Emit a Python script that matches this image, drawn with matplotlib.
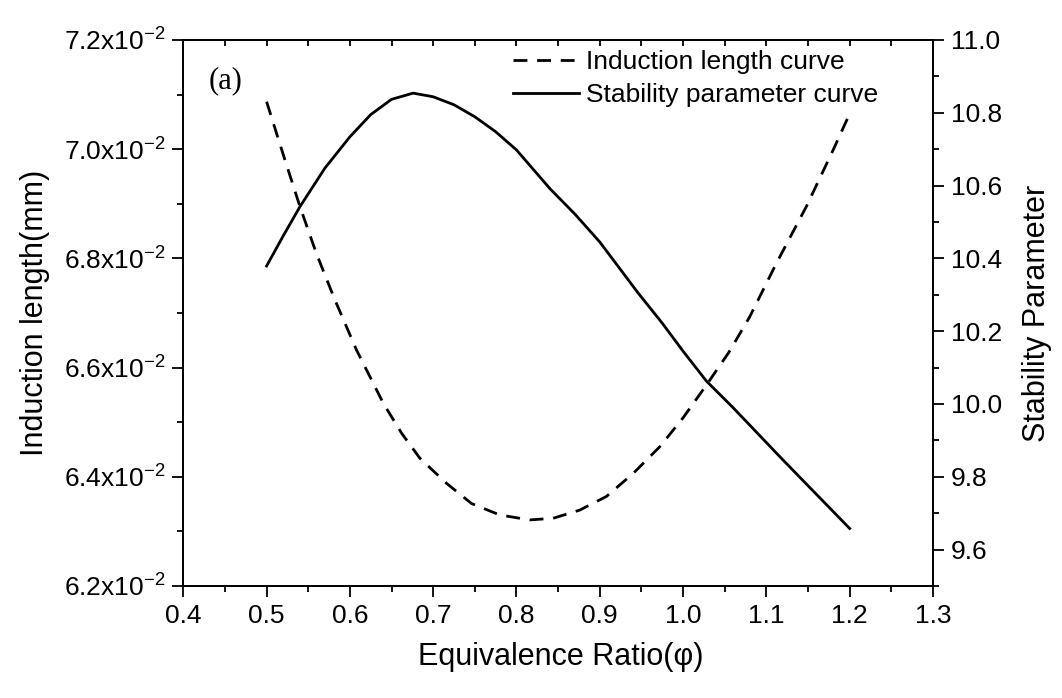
import matplotlib
matplotlib.use('Agg')
import matplotlib.pyplot as plt
import numpy as np
from matplotlib.ticker import MultipleLocator, FuncFormatter

plt.rcParams['font.family'] = ['Liberation Sans', 'DejaVu Sans']
plt.rcParams['mathtext.default'] = 'regular'

# equivalence ratio / induction length (mm)
phi_ind = [0.500, 0.520, 0.540, 0.560, 0.582, 0.608, 0.640, 0.662, 0.684,
           0.716, 0.746, 0.780, 0.816, 0.844, 0.876, 0.908, 0.940, 0.972,
           1.000, 1.028, 1.055, 1.080, 1.112, 1.148, 1.180, 1.200]
induction = [0.07087, 0.06990, 0.06895, 0.06808, 0.06724, 0.06632, 0.06535,
             0.06480, 0.06434, 0.06388, 0.06351, 0.06330, 0.06321, 0.06324,
             0.06339, 0.06364, 0.06406, 0.06455, 0.06508, 0.06568, 0.06628,
             0.06693, 0.06791, 0.06895, 0.06998, 0.07065]

# equivalence ratio / stability parameter
phi_stab = [0.500, 0.520, 0.540, 0.570, 0.600, 0.625, 0.650, 0.676, 0.700,
            0.725, 0.750, 0.775, 0.800, 0.840, 0.870, 0.900, 0.946, 0.975,
            1.000, 1.028, 1.060, 1.090, 1.120, 1.160, 1.200]
stability = [10.379, 10.462, 10.542, 10.648, 10.734, 10.795, 10.837, 10.854,
             10.844, 10.822, 10.789, 10.748, 10.698, 10.592, 10.522, 10.445,
             10.305, 10.222, 10.145, 10.063, 9.990, 9.918, 9.846, 9.752,
             9.658]

fig = plt.figure(figsize=(10.62, 6.98), dpi=100)
ax = fig.add_axes([0.1726, 0.1605, 0.7059, 0.7822])
ax2 = ax.twinx()

l1, = ax.plot(phi_ind, induction, color='black', lw=2.0, ls='--', dashes=(5, 3.5))
l2, = ax2.plot(phi_stab, stability, color='black', lw=2.0)

ax.set_xlim(0.4, 1.3)
ax.set_ylim(0.062, 0.072)
ax2.set_ylim(9.5, 11.0)

ax.xaxis.set_major_locator(MultipleLocator(0.1))
ax.xaxis.set_minor_locator(MultipleLocator(0.05))
ax.yaxis.set_major_locator(MultipleLocator(0.002))
ax.yaxis.set_minor_locator(MultipleLocator(0.001))
ax2.yaxis.set_major_locator(MultipleLocator(0.2))
ax2.yaxis.set_minor_locator(MultipleLocator(0.1))

ax.xaxis.set_major_formatter(FuncFormatter(lambda v, p: f'{v:.1f}'))
ax.yaxis.set_major_formatter(FuncFormatter(lambda v, p: f'{v*100:.1f}x10$^{{-2}}$'))
ax2.yaxis.set_major_formatter(FuncFormatter(lambda v, p: f'{v:.1f}'))

ax.tick_params(axis='both', which='major', direction='out', length=8, width=1.3,
               labelsize=19, pad=5)
ax.tick_params(axis='both', which='minor', direction='out', length=4.5, width=1.3)
ax.tick_params(axis='x', which='both', top=True)
ax2.tick_params(axis='y', which='major', direction='out', length=8, width=1.3,
                labelsize=19, pad=5)
ax2.tick_params(axis='y', which='minor', direction='out', length=4.5, width=1.3)

for a in (ax, ax2):
    for s in a.spines.values():
        s.set_linewidth(1.3)

# top ticks point inward
for t in ax.xaxis.get_major_ticks() + ax.xaxis.get_minor_ticks():
    t.tick2line.set_marker(3)
    t.tick2line.set_markersize(4.5)

ax.set_xlabel('Equivalence Ratio(φ)', fontsize=22)
ax.set_ylabel('Induction length(mm)', fontsize=22)
ax2.set_ylabel('Stability Parameter', fontsize=22)
ax.xaxis.set_label_coords(0.504, -0.103)
ax.yaxis.set_label_coords(-0.178, 0.5)
ax2.yaxis.set_label_coords(1.119, 0.5)

ax.text(0.43, 0.07125, '(a)', fontsize=22, family=['Liberation Serif'],
        va='center', ha='left')

ax2.legend([l1, l2], ['Induction length curve', 'Stability parameter curve'],
           loc='upper left', bbox_to_anchor=(0.44, 0.982), frameon=False,
           fontsize=19, handlelength=2.5, handletextpad=0.25, labelspacing=0.35,
           borderpad=0, borderaxespad=0)

fig.savefig('out.png', dpi=100)
